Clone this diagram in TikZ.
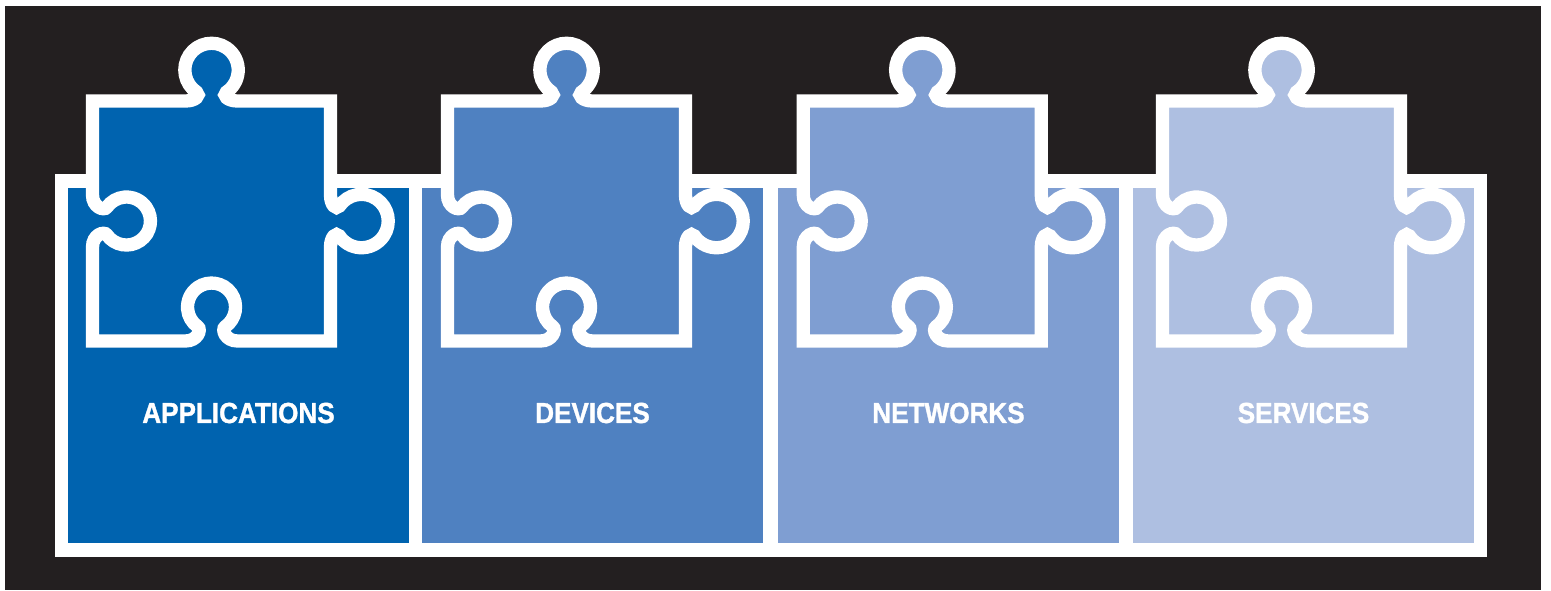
\documentclass[tikz,border=0pt]{standalone}
\usepackage{fontspec}
\newfontfamily\labelfont[FakeStretch=0.9, FakeBold=1.2]{Liberation Sans}
\usetikzlibrary{positioning}

\definecolor{bgdark}{HTML}{231F20}
\definecolor{pzA}{HTML}{0063AF}
\definecolor{pzB}{HTML}{4F81C1}
\definecolor{pzC}{HTML}{7F9ED2}
\definecolor{pzD}{HTML}{AEBFE1}

\tikzset{
	panel/.style={fill=#1},
	piece/.style={draw=white, line width=13.3pt, fill=#1},
	tag/.style={text=white, inner sep=0pt, font=\labelfont\bfseries\fontsize{29}{29}\selectfont}
}

\begin{document}
\begin{tikzpicture}[x=1pt, y=1pt]
		\useasboundingbox (0,0) rectangle (1551,590);
		\fill[white] (0,0) rectangle (1551,590);
		\fill[bgdark] (5,0) rectangle (1541,584);
		\fill[white] (55,33) rectangle (1487,416);
		% panels, pieces and labels
		\foreach \bx/\px/\col/\txt [count=\i] in {68/92.5/pzA/APPLICATIONS, 422/447.5/pzB/DEVICES, 778/803.3/pzC/NETWORKS, 1133/1162.5/pzD/SERVICES}
		{
			\fill[panel=\col] (\bx,47) rectangle ++(341,355);
			\draw[piece=\col, shift={(\px,249)}]
				(0,240) -- (93,240) .. controls (103,240) and (108.2,245.6) .. (104.1,248.9)
				arc[start angle=236, end angle=-56, radius=26.7]
				.. controls (129.8,245.6) and (135,240) .. (145,240) -- (238,240)
				-- (238,146) .. controls (238,136) and (243.6,130.8) .. (246.9,134.9)
				arc[start angle=146, end angle=-146, radius=26.7]
				.. controls (243.6,109.2) and (238,104) .. (238,94) -- (238,0)
				-- (145,0) .. controls (133,0) and (128.7,11.4) .. (132.8,14.3)
				arc[start angle=-55, end angle=235, radius=24]
				.. controls (109.3,11.4) and (105,0) .. (93,0) -- (0,0)
				-- (0,94) .. controls (0,106) and (11.4,110.3) .. (14.3,106.2)
				arc[start angle=-145, end angle=145, radius=24]
				.. controls (11.4,129.7) and (0,134) .. (0,146) -- cycle;
			\node[tag] (lab-\i) at (\bx+170.5,177) {\txt};
		}
	\end{tikzpicture}
\end{document}
